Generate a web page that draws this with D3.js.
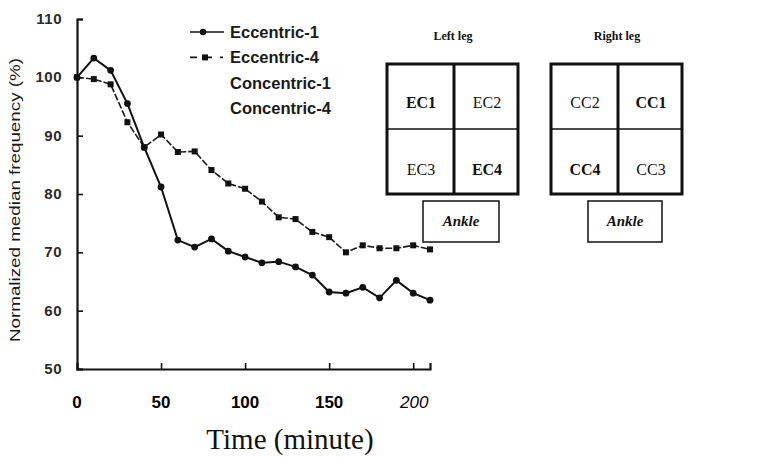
<!DOCTYPE html>
<html>
<head>
<meta charset="utf-8">
<script src="https://cdn.jsdelivr.net/npm/d3@7"></script>
<style>
  body { margin: 0; background: #fff; }
  svg { display: block; }
  .tick-y { font-family: "Liberation Sans", Arial, sans-serif; font-size: 15px; font-weight: bold; fill: #2a2a2a; }
  .tick-x { font-family: "Liberation Sans", Arial, sans-serif; font-size: 17px; font-weight: bold; fill: #000; }
  .legend { font-family: "Liberation Sans", Arial, sans-serif; font-size: 16.5px; font-weight: bold; fill: #1a1a1a; }
  .ytitle { font-family: "Liberation Sans", Arial, sans-serif; font-size: 15px; fill: #1a1a1a; }
  .serif { font-family: "Liberation Serif", "Times New Roman", serif; fill: #111; }
</style>
</head>
<body>
<div id="chart"></div>
<script>
const minutes = [0, 10, 20, 30, 40, 50, 60, 70, 80, 90, 100, 110, 120, 130, 140, 150, 160, 170, 180, 190, 200, 210]
const eccentric1 = [100, 103.3, 101.2, 95.5, 88, 81.2, 72.1, 70.9, 72.3, 70.2, 69.2, 68.2, 68.4, 67.5, 66.1, 63.2, 63, 64, 62.2, 65.2, 63, 61.8]
const eccentric4 = [100, 99.7, 98.8, 92.3, 88, 90.2, 87.2, 87.3, 84.1, 81.8, 80.9, 78.7, 76, 75.7, 73.5, 72.6, 70, 71.2, 70.7, 70.7, 71.2, 70.5]
const legendLabels = ["Eccentric-1", "Eccentric-4", "Concentric-1", "Concentric-4"]
const xTicks = [0, 50, 100, 150, 200]
const yTicks = [50, 60, 70, 80, 90, 100, 110]

const W = 778, H = 458
const svg = d3.select('#chart').append('svg')
  .attr('width', W)
  .attr('height', H)

const xScale = d3.scaleLinear().domain([0, 210]).range([77, 430])
const yScale = d3.scaleLinear().domain([50, 110]).range([369, 19])

//Axes
svg.append('g')
  .attr('transform', `translate(0,${yScale(50)})`)
  .call(d3.axisBottom(xScale).tickValues(xTicks).tickSize(-6).tickFormat(''))
  .call(g => g.select('.domain').attr('stroke', '#111').attr('stroke-width', 2.2))
  .call(g => g.selectAll('.tick line').attr('stroke', '#111').attr('stroke-width', 1.6))

svg.append('g')
  .attr('transform', `translate(${xScale(0)},0)`)
  .call(d3.axisLeft(yScale).tickValues(yTicks).tickSize(-6).tickFormat(''))
  .call(g => g.select('.domain').attr('stroke', '#111').attr('stroke-width', 2.2))
  .call(g => g.selectAll('.tick line').attr('stroke', '#111').attr('stroke-width', 1.6))

svg.selectAll('.tick-y')
  .data(yTicks)
  .enter()
    .append('text')
    .attr('class', 'tick-y')
    .attr('x', 62)
    .attr('y', d => yScale(d) + 5)
    .attr('text-anchor', 'end')
    .attr('letter-spacing', '0.5px')
    .text(d => d)

svg.selectAll('.tick-x')
  .data(xTicks)
  .enter()
    .append('text')
    .attr('class', 'tick-x')
    .attr('x', d => xScale(d) + (d === 200 ? 1 : 0))
    .attr('y', 408)
    .attr('text-anchor', 'middle')
    .style('font-style', d => d === 200 ? 'italic' : 'normal')
    .style('font-weight', d => d === 200 ? 'normal' : 'bold')
    .text(d => d)

//Axis titles
svg.append('text')
  .attr('class', 'serif')
  .attr('x', 290)
  .attr('y', 449)
  .attr('text-anchor', 'middle')
  .style('font-size', '29px')
  .text('Time (minute)')

svg.append('text')
  .attr('class', 'ytitle')
  .attr('transform', `translate(20,200) rotate(-90)`)
  .attr('text-anchor', 'middle')
  .attr('textLength', 284)
  .attr('lengthAdjust', 'spacingAndGlyphs')
  .text('Normalized median frequency (%)')

//Lines
const line = d3.line()
  .x((d, i) => xScale(minutes[i]))
  .y(d => yScale(d))

svg.append('path')
  .datum(eccentric4)
  .attr('fill', 'none')
  .attr('stroke', '#1a1a1a')
  .attr('stroke-width', 1.6)
  .attr('stroke-dasharray', '7,2')
  .attr('d', line)

svg.selectAll('.sq')
  .data(eccentric4)
  .enter()
    .append('rect')
    .attr('class', 'sq')
    .attr('x', (d, i) => xScale(minutes[i]) - 3)
    .attr('y', d => yScale(d) - 3)
    .attr('width', 6)
    .attr('height', 6)
    .attr('fill', '#111')

svg.append('path')
  .datum(eccentric1)
  .attr('fill', 'none')
  .attr('stroke', '#111')
  .attr('stroke-width', 2)
  .attr('d', line)

svg.selectAll('.dot')
  .data(eccentric1)
  .enter()
    .append('circle')
    .attr('class', 'dot')
    .attr('cx', (d, i) => xScale(minutes[i]))
    .attr('cy', d => yScale(d))
    .attr('r', 3.4)
    .attr('fill', '#111')

//Legend
const legendY = i => 32 + i * 25.4
const legend = svg.append('g')
legend.append('line').attr('x1', 190).attr('x2', 224).attr('y1', legendY(0)).attr('y2', legendY(0))
  .attr('stroke', '#111').attr('stroke-width', 1.6)
legend.append('circle').attr('cx', 203).attr('cy', legendY(0)).attr('r', 3.2).attr('fill', '#111')
legend.append('line').attr('x1', 190).attr('x2', 223).attr('y1', legendY(1)).attr('y2', legendY(1))
  .attr('stroke', '#111').attr('stroke-width', 1.6).attr('stroke-dasharray', '7,8')
legend.append('rect').attr('x', 202).attr('y', legendY(1) - 3).attr('width', 6).attr('height', 6).attr('fill', '#111')

legend.selectAll('text')
  .data(legendLabels)
  .enter()
    .append('text')
    .attr('class', 'legend')
    .attr('x', 230)
    .attr('y', (d, i) => legendY(i) + 6)
    .text(d => d)

//Leg diagrams
function drawLeg(x0, title, cells) {
  const g = svg.append('g')
  const size = 131, half = 66
  g.append('text').attr('class', 'serif')
    .attr('x', x0 + half).attr('y', 40)
    .attr('text-anchor', 'middle')
    .style('font-size', '12px').style('font-weight', 'bold')
    .text(title)
  g.append('rect').attr('x', x0).attr('y', 64).attr('width', size).attr('height', size - 1)
    .attr('fill', 'none').attr('stroke', '#111').attr('stroke-width', 3)
  g.append('line').attr('x1', x0 + half + 1).attr('x2', x0 + half + 1).attr('y1', 64).attr('y2', 64 + size - 1)
    .attr('stroke', '#111').attr('stroke-width', 3)
  g.append('line').attr('x1', x0).attr('x2', x0 + size).attr('y1', 129).attr('y2', 129)
    .attr('stroke', '#111').attr('stroke-width', 1.5)
  cells.forEach((c, i) => {
    g.append('text').attr('class', 'serif')
      .attr('x', x0 + (i % 2 === 0 ? 34 : 100))
      .attr('y', i < 2 ? 108 : 175)
      .attr('text-anchor', 'middle')
      .style('font-size', '16px')
      .style('font-weight', c.bold ? 'bold' : 'normal')
      .text(c.label)
  })
  return g
}

const left = drawLeg(387, 'Left leg', [
  { label: 'EC1', bold: true }, { label: 'EC2', bold: false },
  { label: 'EC3', bold: false }, { label: 'EC4', bold: true }
])
left.append('rect').attr('x', 423).attr('y', 201).attr('width', 76).attr('height', 41)
  .attr('fill', 'none').attr('stroke', '#111').attr('stroke-width', 1.5)
left.append('text').attr('class', 'serif')
  .attr('x', 461).attr('y', 226).attr('text-anchor', 'middle')
  .style('font-size', '15px').style('font-style', 'italic').style('font-weight', 'bold')
  .text('Ankle')

const right = drawLeg(551, 'Right leg', [
  { label: 'CC2', bold: false }, { label: 'CC1', bold: true },
  { label: 'CC4', bold: true }, { label: 'CC3', bold: false }
])
right.append('rect').attr('x', 588).attr('y', 201).attr('width', 74).attr('height', 41)
  .attr('fill', 'none').attr('stroke', '#111').attr('stroke-width', 1.5)
right.append('text').attr('class', 'serif')
  .attr('x', 625).attr('y', 226).attr('text-anchor', 'middle')
  .style('font-size', '15px').style('font-style', 'italic').style('font-weight', 'bold')
  .text('Ankle')
</script>
</body>
</html>
